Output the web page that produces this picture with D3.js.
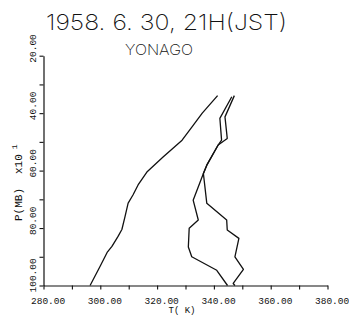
<!DOCTYPE html>
<html>
<head>
<meta charset="utf-8">
<script src="https://cdn.jsdelivr.net/npm/d3@7"></script>
<style>
  body { margin: 0; background: #fff; }
  text { font-family: "Liberation Mono", "DejaVu Sans Mono", monospace; fill: #111; }
  .thin { font-family: "Inter", "DejaVu Sans", sans-serif; font-weight: 200; }
</style>
</head>
<body>
<script>
// potential temperature (left curve)
var thetaP = [100, 93.4, 88.5, 86.4, 83.0, 80.5, 76.0, 71.3, 68.5, 65.0, 60.5, 55.3, 49.4, 44.8, 40.0, 33.9];
var thetaT = [296.4, 299.9, 302.4, 304.1, 306.2, 307.6, 308.7, 309.8, 311.5, 313.3, 316.4, 322.1, 328.8, 332.3, 335.9, 341.3];
// middle curve
var midP = [100, 94.7, 90.0, 86.6, 80.1, 77.2, 70.3, 61.0, 58.1, 51.1, 49.4, 41.8, 34.3];
var midT = [344.8, 341.0, 332.2, 331.0, 331.3, 334.5, 332.7, 336.3, 337.5, 341.5, 342.7, 342.1, 346.3];
// right curve
var rightP = [100, 99.3, 94.4, 90.0, 83.6, 80.7, 77.2, 71.4, 61.0, 58.1, 51.1, 48.8, 41.3, 33.9];
var rightT = [347.4, 346.8, 350.4, 347.4, 348.8, 344.7, 344.5, 337.5, 336.3, 337.5, 341.5, 344.7, 343.9, 347.2];

var xTicks = [280, 290, 300, 310, 320, 330, 340, 350, 360, 370, 380];
var yTicks = [20, 30, 40, 50, 60, 70, 80, 90, 100];

var x = d3.scaleLinear().domain([280, 380]).range([43.5, 327.5]);
var y = d3.scaleLinear().domain([20, 100]).range([55.7, 285.5]);

var svg = d3.select("body").append("svg")
  .attr("width", 349)
  .attr("height", 315);

// title
svg.append("text")
   .attr("class", "thin")
   .attr("x", 46).attr("y", 30)
   .attr("font-size", 22)
   .attr("textLength", 241)
   .attr("lengthAdjust", "spacingAndGlyphs")
   .text("1958. 6. 30, 21H(JST)");

svg.append("text")
   .attr("class", "thin")
   .attr("x", 125).attr("y", 55)
   .attr("font-size", 15)
   .attr("textLength", 68)
   .attr("lengthAdjust", "spacingAndGlyphs")
   .text("YONAGO");

// x axis
var xAxis = d3.axisBottom(x)
   .tickValues(xTicks)
   .tickSize(4)
   .tickSizeOuter(0)
   .tickFormat(d => d % 20 === 0 ? d3.format(".2f")(d) : "");

var gx = svg.append("g")
   .attr("transform", "translate(0," + y(100) + ")")
   .call(xAxis);
gx.select(".domain").attr("stroke", "#111").attr("stroke-width", 1.2);
gx.selectAll(".tick line").attr("stroke", "#111").attr("stroke-width", 1.1);
gx.selectAll(".tick text")
   .attr("font-family", null)
   .attr("font-size", 9.5)
   .attr("text-anchor", "start")
   .attr("x", -13)
   .attr("y", 0)
   .attr("dy", 18.5);

// y axis
var yAxis = d3.axisLeft(y)
   .tickValues(yTicks)
   .tickSize(4)
   .tickSizeOuter(0)
   .tickFormat(d => d % 20 === 0 ? d3.format(".2f")(d) : "");

var gy = svg.append("g")
   .attr("transform", "translate(" + x(280) + ",0)")
   .call(yAxis);
gy.select(".domain").attr("stroke", "#111").attr("stroke-width", 1.2);
gy.selectAll(".tick line").attr("stroke", "#111").attr("stroke-width", 1.1);
gy.selectAll(".tick text")
   .attr("font-family", null)
   .attr("font-size", 9.5)
   .attr("text-anchor", "start")
   .attr("x", 0).attr("y", 0).attr("dy", 0)
   .attr("transform", "translate(-8,6.5) rotate(-90)");

// axis titles
var yl = svg.append("text")
   .attr("font-size", 11)
   .attr("transform", "translate(22,221) rotate(-90)");
yl.append("tspan").text("P(MB)");
yl.append("tspan").attr("dx", 14).text("x10");
yl.append("tspan").attr("dx", 5).attr("dy", -5).attr("font-size", 8).text("1");

svg.append("text")
   .attr("x", 182).attr("y", 313)
   .attr("font-size", 9)
   .attr("text-anchor", "middle")
   .text("T( K)");

// curves
var line = d3.line()
   .x(d => x(d[0]))
   .y(d => y(d[1]));

var series = [
  d3.zip(thetaT, thetaP),
  d3.zip(midT, midP),
  d3.zip(rightT, rightP)
];

svg.selectAll("path.curve")
   .data(series)
   .enter().append("path")
      .attr("class", "curve")
      .attr("d", line)
      .attr("fill", "none")
      .attr("stroke", "#111")
      .attr("stroke-width", 1.3)
      .attr("stroke-linejoin", "round");
</script>
</body>
</html>
